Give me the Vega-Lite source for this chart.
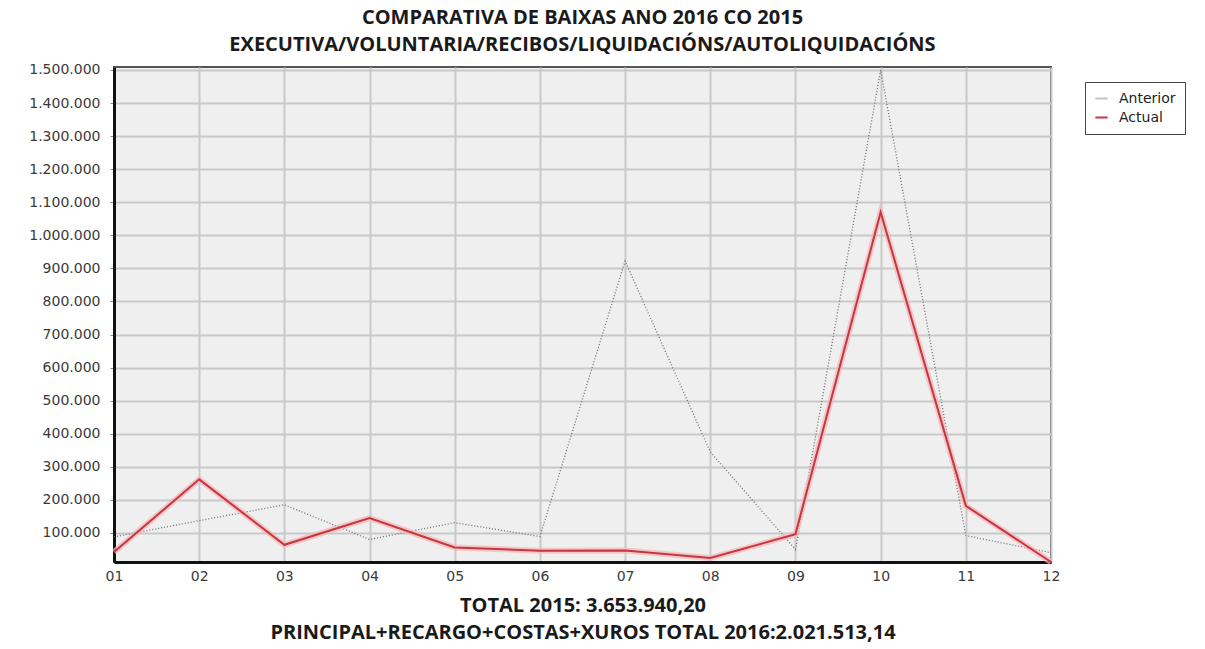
{
  "$schema": "https://vega.github.io/schema/vega-lite/v6.json",
  "autosize": "none",
  "width": 937,
  "height": 495,
  "padding": {"left": 114, "top": 67, "right": 154, "bottom": 87},
  "background": "white",
  "config": {
    "locale": {"number": {"decimal": ",", "thousands": ".", "grouping": [3], "currency": ["", " €"]}},
    "view": {"fill": "#efefef", "stroke": "#555555", "strokeWidth": 2},
    "axis": {"labelFont": "DejaVu Sans", "labelFontSize": 14, "labelColor": "#3a3a3a", "gridColor": "#c9c9c9", "gridWidth": 2, "domainColor": "#111111", "domainWidth": 3}
  },
  "title": {
    "text": ["COMPARATIVA DE BAIXAS ANO 2016 CO 2015", "EXECUTIVA/VOLUNTARIA/RECIBOS/LIQUIDACIÓNS/AUTOLIQUIDACIÓNS"],
    "font": "Open Sans",
    "fontSize": 20,
    "fontWeight": "bold",
    "color": "#1a1a1a",
    "lineHeight": 27,
    "anchor": "middle",
    "frame": "group",
    "offset": 8
  },
  "data": {"values": [
    {"mes": "01", "serie": "Anterior", "valor": 88000},
    {"mes": "02", "serie": "Anterior", "valor": 137000},
    {"mes": "03", "serie": "Anterior", "valor": 185000},
    {"mes": "04", "serie": "Anterior", "valor": 80000},
    {"mes": "05", "serie": "Anterior", "valor": 131000},
    {"mes": "06", "serie": "Anterior", "valor": 89000},
    {"mes": "07", "serie": "Anterior", "valor": 922000},
    {"mes": "08", "serie": "Anterior", "valor": 345000},
    {"mes": "09", "serie": "Anterior", "valor": 50000},
    {"mes": "10", "serie": "Anterior", "valor": 1500000},
    {"mes": "11", "serie": "Anterior", "valor": 92000},
    {"mes": "12", "serie": "Anterior", "valor": 40000},
    {"mes": "01", "serie": "Actual", "valor": 42000},
    {"mes": "02", "serie": "Actual", "valor": 262000},
    {"mes": "03", "serie": "Actual", "valor": 64000},
    {"mes": "04", "serie": "Actual", "valor": 145000},
    {"mes": "05", "serie": "Actual", "valor": 56000},
    {"mes": "06", "serie": "Actual", "valor": 46000},
    {"mes": "07", "serie": "Actual", "valor": 47000},
    {"mes": "08", "serie": "Actual", "valor": 24000},
    {"mes": "09", "serie": "Actual", "valor": 96000},
    {"mes": "10", "serie": "Actual", "valor": 1070000},
    {"mes": "11", "serie": "Actual", "valor": 182000},
    {"mes": "12", "serie": "Actual", "valor": 12000}
  ]},
  "encoding": {
    "x": {
      "field": "mes", "type": "ordinal",
      "scale": {"type": "point", "padding": 0},
      "axis": {
        "labelAngle": 0, "ticks": false, "labelPadding": 7, "grid": true,
        "title": ["TOTAL 2015: 3.653.940,20", "PRINCIPAL+RECARGO+COSTAS+XUROS TOTAL 2016:2.021.513,14"],
        "titleFont": "Open Sans", "titleFontSize": 20, "titleFontWeight": "bold", "titleColor": "#1a1a1a",
        "titleLineHeight": 27, "titlePadding": 12
      }
    },
    "y": {
      "field": "valor", "type": "quantitative",
      "scale": {"domain": [12000, 1509000], "nice": false, "zero": false},
      "axis": {
        "values": [100000, 200000, 300000, 400000, 500000, 600000, 700000, 800000, 900000, 1000000, 1100000, 1200000, 1300000, 1400000, 1500000],
        "format": ",d", "title": null, "tickSize": 4, "tickColor": "#888888", "labelPadding": 10
      }
    }
  },
  "layer": [
    {
      "transform": [{"filter": "datum.serie === 'Anterior'"}],
      "mark": {"type": "line", "color": "#6e6e6e", "strokeWidth": 1.3, "strokeDash": [1, 2]}
    },
    {
      "transform": [{"filter": "datum.serie === 'Actual'"}],
      "mark": {"type": "line", "color": "#f3b7bb", "strokeWidth": 6, "opacity": 0.7}
    },
    {
      "transform": [{"filter": "datum.serie === 'Actual'"}],
      "mark": {"type": "line", "strokeWidth": 2},
      "encoding": {
        "color": {
          "field": "serie", "type": "nominal",
          "scale": {"domain": ["Anterior", "Actual"], "range": ["#c4c4c4", "#c8353d"]},
          "legend": {
            "title": null, "orient": "none", "legendX": 971, "legendY": 15,
            "strokeColor": "#444444", "fillColor": "#ffffff", "padding": 9,
            "symbolType": "stroke", "symbolStrokeWidth": 2, "symbolSize": 150,
            "symbolOffset": 0, "labelOffset": 10,
            "labelFont": "DejaVu Sans", "labelFontSize": 14, "labelColor": "#222222",
            "rowPadding": 4, "labelLimit": 200
          }
        }
      }
    }
  ]
}
